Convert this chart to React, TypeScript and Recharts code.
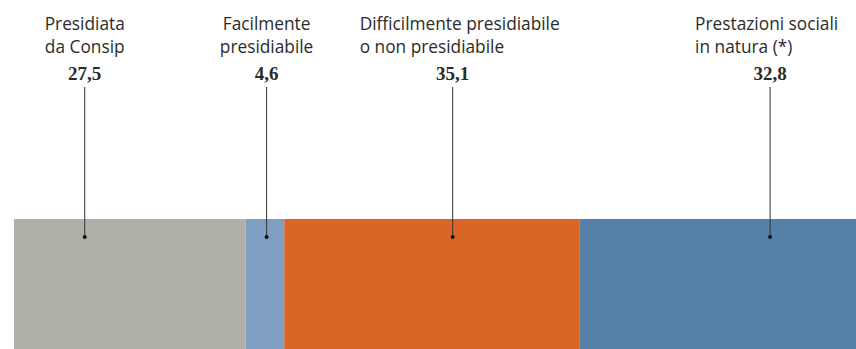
import React from 'react'
import { BarChart, Bar, XAxis, YAxis } from 'recharts'

const labelLines = [
  ['Presidiata', 'da Consip'],
  ['Facilmente', 'presidiabile'],
  ['Difficilmente presidiabile', 'o non presidiabile'],
  ['Prestazioni sociali', 'in natura (*)'],
]
const values = [27.5, 4.6, 35.1, 32.8]
const valueLabels = ['27,5', '4,6', '35,1', '32,8']
// where each callout line meets the bar, in axis units (0-100)
const calloutAt = [8.4, 30.0, 52.1, 89.8]

const colors = ['#b1b0a8', '#7f9fc2', '#d96527', '#5581a8']
const textLayout = [
  { anchor: 'middle', dx: 0 },
  { anchor: 'middle', dx: 0 },
  { anchor: 'start', dx: -93 },
  { anchor: 'start', dx: -75 },
]

const row: Record<string, number | string> = { name: 'spesa' }
values.forEach((v, i) => {
  row['s' + i] = v
})
const data = [row]

const starts = values.map((_, i) => values.slice(0, i).reduce((a, b) => a + b, 0))

const labelFont = {
  fontFamily: "'Open Sans', sans-serif",
  fontSize: 17.3,
  fill: '#2b2b2b',
}

const Callout = (props: any, i: number) => {
  const vb = props.viewBox || props
  const x = Number(vb.x)
  const w = Number(vb.width)
  const top = Number(vb.y)
  const dotX = x + (w * (calloutAt[i] - starts[i])) / values[i]
  const lay = textLayout[i]
  const tx = dotX + lay.dx
  return (
    <g>
      <text x={tx} y={30} textAnchor={lay.anchor as any} {...labelFont}>
        {labelLines[i][0]}
      </text>
      <text x={tx} y={53} textAnchor={lay.anchor as any} {...labelFont}>
        {labelLines[i][1]}
      </text>
      <text
        x={dotX}
        y={80}
        textAnchor="middle"
        fontFamily="'Liberation Serif', serif"
        fontWeight="bold"
        fontSize={19}
        fill="#2a2a2a"
      >
        {valueLabels[i]}
      </text>
      <line x1={dotX} y1={87} x2={dotX} y2={top + 18} stroke="#333" strokeWidth={1} />
      <circle cx={dotX} cy={top + 18} r={2} fill="#111" />
    </g>
  )
}

export default function App() {
  return (
    <div style={{ position: 'absolute', left: 0, top: 0, background: '#fff' }}>
      <BarChart
        width={856}
        height={349}
        data={data}
        layout="vertical"
        barCategoryGap={0}
        margin={{ top: 219, right: 0, bottom: 0, left: 14 }}
      >
        <XAxis type="number" domain={[0, 100]} hide />
        <YAxis type="category" dataKey="name" hide />
        {values.map((_, i) => (
          <Bar
            key={i}
            dataKey={'s' + i}
            stackId="a"
            fill={colors[i]}
            isAnimationActive={false}
            label={(p: any) => Callout(p, i)}
          />
        ))}
      </BarChart>
    </div>
  )
}
